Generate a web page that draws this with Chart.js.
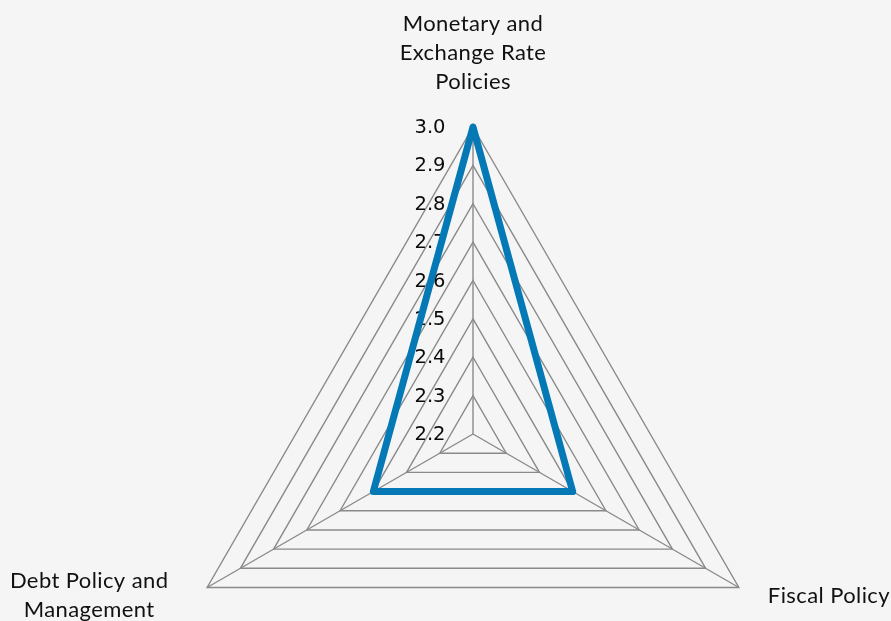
<!DOCTYPE html>
<html>
<head>
<meta charset="utf-8">
<script src="https://cdn.jsdelivr.net/npm/chart.js@4"></script>
<style>
  html, body { margin: 0; padding: 0; background: #f5f5f5; overflow: hidden; width: 891px; height: 621px; }
  #wrap { width: 891px; height: 741px; position: relative; }
</style>
</head>
<body>
<div id="wrap"><canvas id="c"></canvas></div>
<script>
const categories = [["Monetary and", "Exchange Rate", "Policies"], "Fiscal Policy", ["Debt Policy and", "Management"]];
const values = [3.0, 2.5, 2.5];
const tickLabels = ["2.2", "2.3", "2.4", "2.5", "2.6", "2.7", "2.8", "2.9", "3.0"];
const scaleMin = 2.2, scaleMax = 3.0, scaleStep = 0.1;

const labelPlugin = {
  id: 'customLabels',
  beforeDatasetsDraw(chart) {
    const s = chart.scales.r;
    const ctx = chart.ctx;
    ctx.save();
    ctx.fillStyle = '#0a0a0a';
    ctx.font = '19.5px "DejaVu Sans"';
    ctx.textAlign = 'center';
    ctx.textBaseline = 'middle';
    s.ticks.forEach((t, i) => {
      const d = s.getDistanceFromCenterForValue(t.value);
      ctx.fillText(tickLabels[i], s.xCenter - 43, s.yCenter - d + 1);
    });
    ctx.restore();
  },
  afterDraw(chart) {
    const s = chart.scales.r;
    const ctx = chart.ctx;
    ctx.save();
    ctx.fillStyle = '#111';
    ctx.font = '22px Lato';
    try { ctx.letterSpacing = '0.4px'; } catch (e) {}
    ctx.textBaseline = 'alphabetic';
    const lh = 29;
    categories.forEach((lab, i) => {
      const lines = Array.isArray(lab) ? lab : [lab];
      const p = s.getPointPositionForValue(i, scaleMax);
      if (i === 0) {
        ctx.textAlign = 'center';
        const lastBase = p.y - 38;
        lines.forEach((ln, k) => ctx.fillText(ln, p.x, lastBase - (lines.length - 1 - k) * lh));
      } else if (i === 1) {
        ctx.textAlign = 'left';
        lines.forEach((ln, k) => ctx.fillText(ln, p.x + 29, p.y + 15 + k * lh));
      } else {
        ctx.textAlign = 'center';
        lines.forEach((ln, k) => ctx.fillText(ln, p.x - 118, p.y + k * lh));
      }
    });
    ctx.restore();
  }
};

new Chart(document.getElementById('c'), {
  type: 'radar',
  data: {
    labels: categories,
    datasets: [{
      data: values,
      borderColor: '#0479b6',
      borderWidth: 7,
      fill: false,
      pointRadius: 0,
      pointHoverRadius: 0,
      borderJoinStyle: 'round',
      borderCapStyle: 'round',
      tension: 0
    }]
  },
  options: {
    responsive: true,
    maintainAspectRatio: false,
    animation: false,
    events: [],
    layout: { padding: { left: 166, right: 111, top: 127, bottom: 0 } },
    plugins: { legend: { display: false }, tooltip: { enabled: false } },
    scales: {
      r: {
        min: scaleMin,
        max: scaleMax,
        ticks: { stepSize: scaleStep, display: false },
        pointLabels: { display: false },
        grid: { color: '#8a8a8a', lineWidth: 1.4, circular: false },
        angleLines: { color: '#8a8a8a', lineWidth: 1.4 }
      }
    }
  },
  plugins: [labelPlugin]
});
</script>
</body>
</html>
